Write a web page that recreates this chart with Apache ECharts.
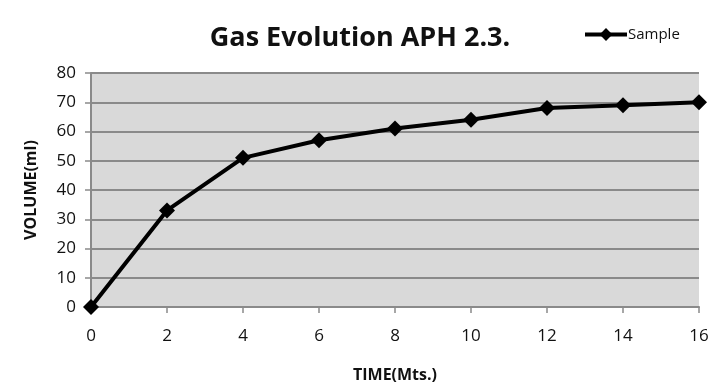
<!DOCTYPE html>
<html><head><meta charset="utf-8">
<script src="https://cdn.jsdelivr.net/npm/echarts@6/dist/echarts.min.js"></script>
<style>html,body{margin:0;padding:0;background:#fff}#c{width:720px;height:391px}</style>
</head><body><div id="c"></div>
<script>
const times = [0, 2, 4, 6, 8, 10, 12, 14, 16];
const volumes = [0, 33, 51, 57, 61, 64, 68, 69, 70];
const seriesName = 'Sample';
const titleText = 'Gas Evolution APH 2.3.';
const xName = 'TIME(Mts.)';
const yName = 'VOLUME(ml)';

const chart = echarts.init(document.getElementById('c'));
const font = '"Open Sans", Lato, sans-serif';
chart.setOption({
  animation: false,
  backgroundColor: '#fff',
  title: {
    text: titleText, left: 355, top: 20, textAlign: 'center',
    textStyle: {fontFamily: font, fontWeight: 'bold', fontSize: 27, color: '#111'}
  },
  legend: {
    data: [seriesName], left: 578, top: 22, itemWidth: 42, itemHeight: 16, itemGap: 4,
    lineStyle: {width: 4, color: '#000'},
    textStyle: {fontFamily: font, fontSize: 15, color: '#111', padding: [0,0,0,-4]}
  },
  grid: {left: 91, right: 21, top: 73, bottom: 84, show: true, backgroundColor: '#d9d9d9', borderWidth: 0},
  xAxis: {
    type: 'value', min: 0, max: 16, interval: 2,
    name: xName, nameLocation: 'middle', nameGap: 60,
    nameTextStyle: {fontFamily: font, fontWeight: 'bold', fontSize: 16, color: '#111'},
    axisLine: {show: true, lineStyle: {color: '#8a8a8a', width: 2}},
    axisTick: {show: true, length: 6, lineStyle: {color: '#8a8a8a', width: 1.5}},
    axisLabel: {fontFamily: font, fontSize: 17, color: '#111', margin: 21},
    splitLine: {show: false}
  },
  yAxis: {
    type: 'value', min: 0, max: 80, interval: 10,
    name: yName, nameLocation: 'middle', nameGap: 52, nameRotate: 90,
    nameTextStyle: {fontFamily: font, fontWeight: 'bold', fontSize: 16, color: '#111'},
    axisLine: {show: true, lineStyle: {color: '#8a8a8a', width: 2}},
    axisTick: {show: true, length: 6, lineStyle: {color: '#8a8a8a', width: 1.5}},
    axisLabel: {fontFamily: font, fontSize: 17, color: '#111', margin: 15},
    splitLine: {show: true, lineStyle: {color: '#8a8a8a', width: 2}}
  },
  series: [{
    name: seriesName, type: 'line',
    data: times.map((t, i) => [t, volumes[i]]),
    symbol: 'diamond', symbolSize: 16,
    lineStyle: {color: '#000', width: 4},
    itemStyle: {color: '#000'},
    clip: false
  }]
});
</script></body></html>
